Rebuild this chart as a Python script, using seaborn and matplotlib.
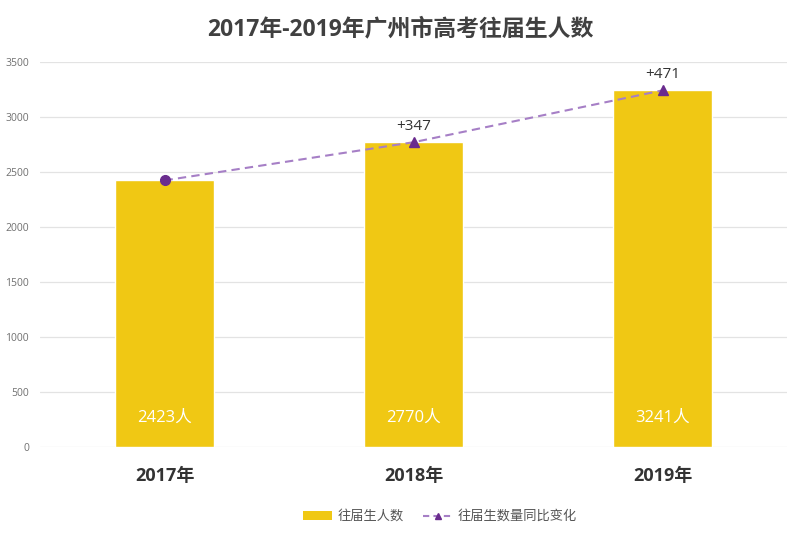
import matplotlib
matplotlib.use("Agg")
import matplotlib.pyplot as plt
import seaborn as sns
import pandas as pd
from matplotlib.lines import Line2D
from matplotlib.patches import Patch

years = ["2017年", "2018年", "2019年"]
counts = [2423, 2770, 3241]
changes = ["", "+347", "+471"]
bar_labels = ["2423人", "2770人", "3241人"]
yticks = [0, 500, 1000, 1500, 2000, 2500, 3000, 3500]

sns.set_theme(style="white")
plt.rcParams['font.family'] = ['Open Sans', 'Noto Sans CJK SC', 'DejaVu Sans']

df = pd.DataFrame({"year": years, "count": counts})

fig = plt.figure(figsize=(8, 5.33), dpi=100)
ax = fig.add_axes([0.05, 0.161, 0.934, 0.723])

bar_color = "#F0C814"
sns.barplot(data=df, x="year", y="count", color=bar_color, width=0.4,
            saturation=1, ax=ax, zorder=2)

line_color = "#A67FC6"
marker_color = "#6A2C8E"
xs = list(range(len(years)))
ax.plot(xs, counts, linestyle=(0, (4, 2.5)), color=line_color, lw=1.5, zorder=3)
ax.plot([xs[0]], [counts[0]], marker="o", color=marker_color, ms=7, ls="none", zorder=4)
ax.plot(xs[1:], counts[1:], marker="^", color=marker_color, ms=7, ls="none", zorder=4)

for x, v, c, bl in zip(xs, counts, changes, bar_labels):
    if c:
        ax.text(x, v + 75, c, ha="center", va="bottom", fontsize=11, color="#333333", zorder=5)
    ax.text(x, 270, bl, ha="center", va="center", fontsize=12, color="white", zorder=5)

ax.set_ylim(0, 3500)
ax.set_xlim(-0.5, 2.5)
ax.set_yticks(yticks)
ax.set_yticklabels([str(t) for t in yticks], fontsize=7.5, color="#707070")
ax.set_xlabel("")
ax.set_ylabel("")
ax.tick_params(axis="x", labelsize=13, colors="#333333", pad=14, length=0)
for lab in ax.get_xticklabels():
    lab.set_fontweight("bold")
ax.tick_params(axis="y", pad=8, length=0)
ax.yaxis.grid(True, color="#E3E3E3", lw=0.9, zorder=0)
ax.set_axisbelow(True)
for s in ax.spines.values():
    s.set_visible(False)

fig.text(0.5, 0.944, "2017年-2019年广州市高考往届生人数", ha="center", va="center",
         fontsize=16.5, fontweight="bold", color="#404040")

handles = [Patch(facecolor=bar_color, edgecolor="none"),
           Line2D([0], [0], color=line_color, ls=(0, (3, 2)), lw=1.5,
                  marker="^", markerfacecolor=marker_color, markeredgecolor=marker_color, ms=5)]
fig.legend(handles, ["往届生人数", "往届生数量同比变化"], loc="center",
           bbox_to_anchor=(0.55, 0.031), ncol=2, frameon=False, fontsize=9.5,
           handlelength=2.2, handleheight=0.6, handletextpad=0.4, columnspacing=1.5,
           labelcolor="#555555")

fig.savefig("out.png", dpi=100)
